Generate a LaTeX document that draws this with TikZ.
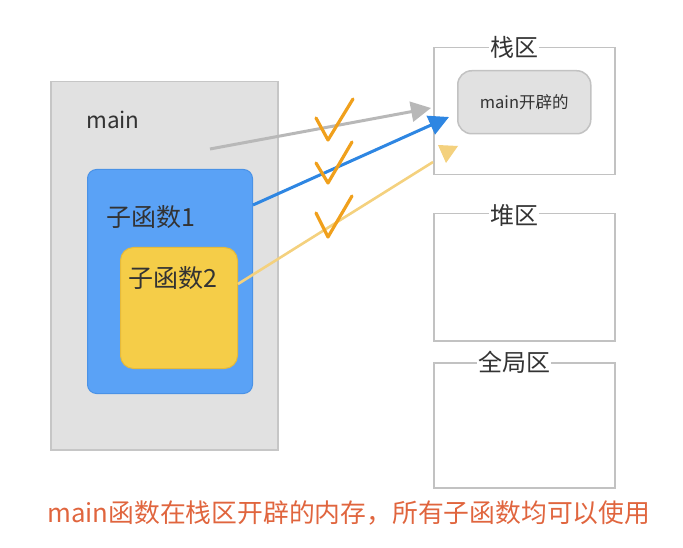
\documentclass[tikz,border=0pt]{standalone}
\usepackage{fontspec}
\setmainfont{Noto Sans CJK SC}
\usetikzlibrary{arrows.meta}
\definecolor{mainfill}{HTML}{E1E1E1}
\definecolor{mainline}{HTML}{C6C6C6}
\definecolor{bluefill}{HTML}{5AA2F6}
\definecolor{blueline}{HTML}{4A92E6}
\definecolor{yelfill}{HTML}{F5CD48}
\definecolor{yelline}{HTML}{E6BA3A}
\definecolor{arealine}{HTML}{C2C2C2}
\definecolor{txt}{HTML}{333333}
\definecolor{note}{HTML}{E0653E}
\definecolor{chk}{HTML}{F0A01C}
\definecolor{grayarrow}{HTML}{B8B8B8}
\definecolor{bluearrow}{HTML}{2E86E2}
\definecolor{yelarrow}{HTML}{F4D17E}
\tikzset{
  framebox/.style={draw=mainline, line width=1.5pt, fill=mainfill, anchor=north west, inner sep=0pt},
  bluebox/.style={draw=blueline, line width=1pt, fill=bluefill, rounded corners=9pt, anchor=north west, inner sep=0pt},
  yelbox/.style={draw=yelline, line width=1pt, fill=yelfill, rounded corners=13pt, anchor=north west, inner sep=0pt},
  areabox/.style={draw=arealine, line width=1.5pt, fill=white, anchor=north west, inner sep=0pt},
  innerbox/.style={draw=arealine, line width=1.5pt, fill=mainfill, rounded corners=14pt, anchor=north west, inner sep=0pt},
  lbl/.style={text=txt, inner sep=1pt},
  arealbl/.style={text=txt, fill=white, inner sep=1pt, font=\fontsize{24}{28}\selectfont},
  check/.style={draw=chk, line width=3.2pt, line cap=round, line join=round},
  conn/.style={line width=3pt, -{Triangle[length=20pt, width=20pt]}}
}
\begin{document}
\begin{tikzpicture}[x=1pt, y=-1pt]
\useasboundingbox (0,0) rectangle (683,548);
% left frames
\node[framebox, minimum width=227pt, minimum height=368pt] (main) at (50,81) {};
\node[lbl, anchor=west, font=\fontsize{22.5}{26}\selectfont] (mainlbl) at (85,120) {main};
\node[bluebox, minimum width=165pt, minimum height=224pt] (sub1) at (87,169) {};
\node[lbl, anchor=west, font=\fontsize{25}{29}\selectfont] (sub1lbl) at (105,217) {子函数1};
\node[yelbox, minimum width=117pt, minimum height=121pt] (sub2) at (120,247) {};
\node[lbl, anchor=west, font=\fontsize{25}{29}\selectfont] (sub2lbl) at (127,278) {子函数2};
% right areas
\node[areabox, minimum width=181pt, minimum height=127pt] (stack) at (433,47) {};
\node[arealbl] (stacklbl) at (514,47) {栈区};
\node[innerbox, minimum width=133pt, minimum height=63pt] (alloc) at (457,70) {};
\node[lbl, font=\fontsize{16.5}{19}\selectfont] (alloclbl) at (alloc.center) {main开辟的};
\node[areabox, minimum width=181pt, minimum height=127pt] (heap) at (433,213) {};
\node[arealbl] (heaplbl) at (514,215) {堆区};
\node[areabox, minimum width=181pt, minimum height=125pt] (global) at (433,362) {};
\node[arealbl] (globallbl) at (514,362) {全局区};
% connectors
\coordinate (gstart) at (210,149);
\coordinate (gend) at (431,108);
\coordinate (bend) at (449,117);
\coordinate (yend) at (433,162);
\draw[conn, grayarrow] (gstart) -- (gend);
\draw[conn, bluearrow] (sub1.east |- 0,205) -- (bend);
\draw[yelarrow, line width=2.6pt] (sub2.east |- 0,284) -- (yend);
\fill[yelarrow] (438,145) -- (458,146) -- (446,163) -- cycle;
% checks
\draw[check] (316,118) -- (328,140) -- (353,99);
\draw[check] (316,163) -- (328,183) -- (352,142);
\draw[check] (316,213) -- (328,237) -- (352,196);
% note
\node[text=note, anchor=west, inner sep=0pt, font=\fontsize{25.8}{30}\selectfont] (notelbl) at (47,513) {main函数在栈区开辟的内存，所有子函数均可以使用};
\end{tikzpicture}
\end{document}
